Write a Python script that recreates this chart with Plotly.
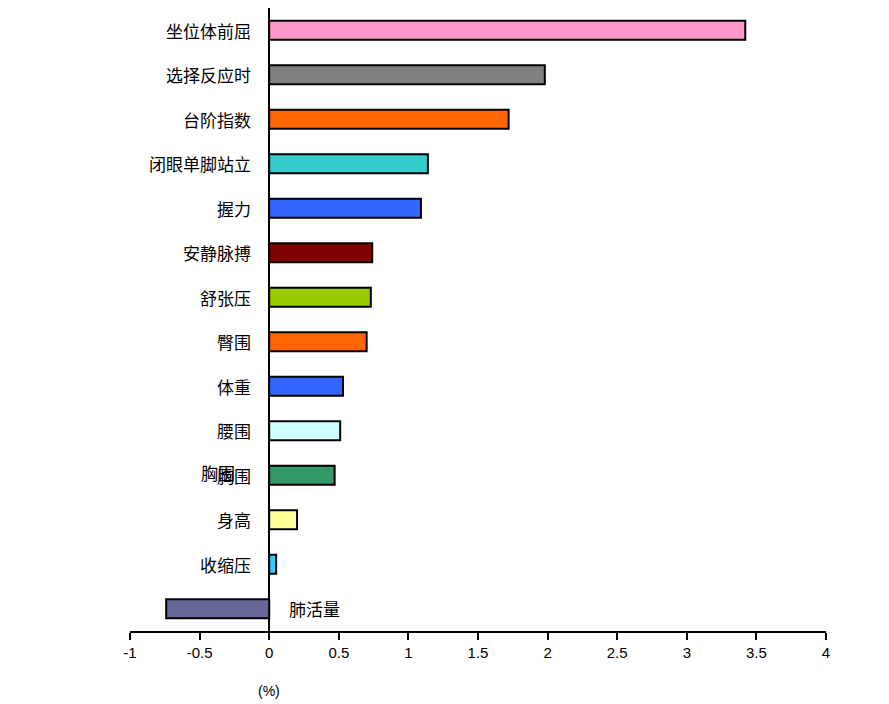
import plotly.graph_objects as go

# 各项指标变化率 (%)
categories = ["坐位体前屈", "选择反应时", "台阶指数", "闭眼单脚站立", "握力", "安静脉搏",
              "舒张压", "臀围", "体重", "腰围", "胸围", "身高", "收缩压", "肺活量"]
values = [3.42, 1.98, 1.72, 1.14, 1.09, 0.74, 0.73, 0.70, 0.53, 0.51, 0.47, 0.20, 0.05, -0.74]
colors = ["#FF99CC", "#808080", "#FF6600", "#33CCCC", "#3366FF", "#800000", "#99CC00",
          "#FF6600", "#3366FF", "#CCFFFF", "#339966", "#FFFF99", "#33CCFF", "#666699"]
x_ticks = [-1, -0.5, 0, 0.5, 1, 1.5, 2, 2.5, 3, 3.5, 4]

cjk = "Noto Sans CJK SC"
narrow = "Liberation Sans Narrow, Arial Narrow, Liberation Sans, sans-serif"

fig = go.Figure(go.Bar(
    x=values, y=categories, orientation="h",
    marker=dict(color=colors, line=dict(color="black", width=2)),
    width=0.43, hoverinfo="x+y",
))

annotations = []
for cat, val in zip(categories, values):
    if val >= 0:
        annotations.append(dict(x=0, y=cat, text=cat, showarrow=False, xanchor="right",
                                xshift=-16, font=dict(family=cjk, size=17, color="black")))
    else:
        annotations.append(dict(x=0, y=cat, text=cat, showarrow=False, xanchor="left",
                                xshift=18, font=dict(family=cjk, size=17, color="black")))
# 原图中“胸围”标签重叠
annotations.append(dict(x=0, y="胸围", text="胸围", showarrow=False, xanchor="right",
                        xshift=-32, yshift=3, font=dict(family=cjk, size=17, color="black")))
annotations.append(dict(x=0, xref="x", y=0, yref="paper", yshift=-60, text="(%)",
                        showarrow=False, xanchor="center", yanchor="middle",
                        font=dict(family=narrow, size=14, color="black")))

fig.update_layout(
    width=889, height=704,
    margin=dict(l=122, r=71, t=0, b=81),
    plot_bgcolor="white", paper_bgcolor="white",
    showlegend=False,
    annotations=annotations,
    xaxis=dict(range=[-1, 4], tickvals=x_ticks, ticktext=[str(t) for t in x_ticks],
               showgrid=False, zeroline=True, zerolinecolor="black", zerolinewidth=2,
               showline=True, linecolor="black", linewidth=2,
               ticks="outside", ticklen=7, tickwidth=2, tickcolor="black",
               tickfont=dict(family=narrow, size=15, color="black")),
    yaxis=dict(categoryorder="array", categoryarray=categories, range=[13.5, -0.5],
               showticklabels=False, showgrid=False, zeroline=False, showline=False,
               ticks=""),
)

fig.write_html("out.html")
